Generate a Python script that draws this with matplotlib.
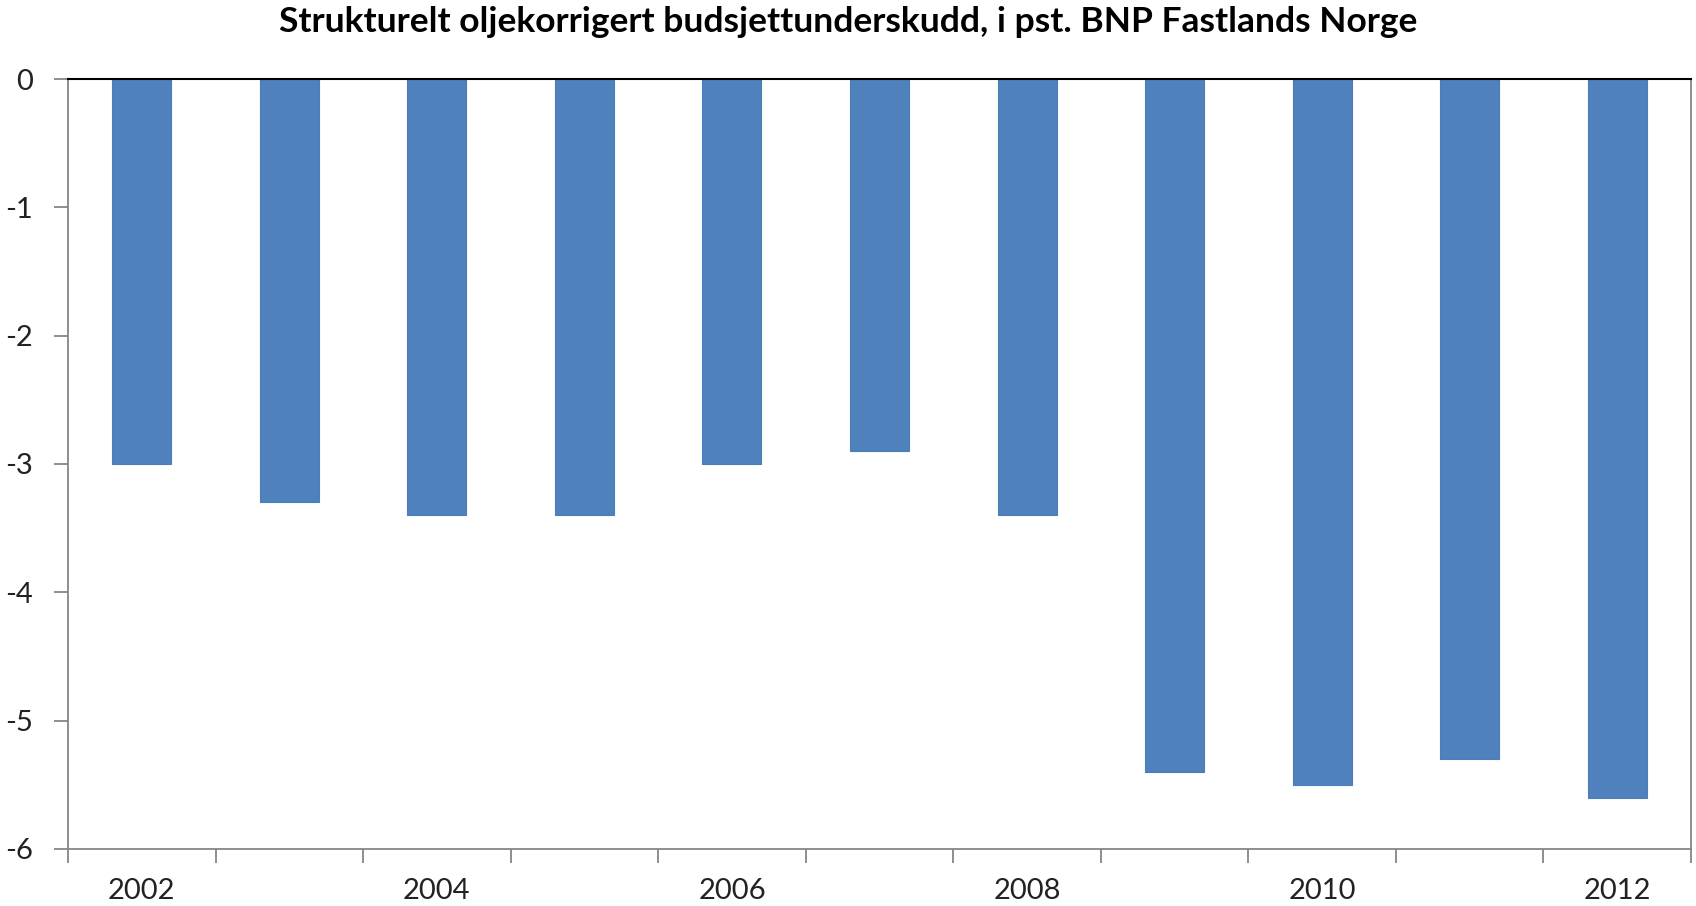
import numpy as np
import matplotlib
matplotlib.use('Agg')
import matplotlib.pyplot as plt

plt.rcParams['font.family'] = ['Lato', 'DejaVu Sans']

years = [2002, 2003, 2004, 2005, 2006, 2007, 2008, 2009, 2010, 2011, 2012]
deficit = [-3.0, -3.3, -3.4, -3.4, -3.0, -2.9, -3.4, -5.4, -5.5, -5.3, -5.6]
yticks = [0, -1, -2, -3, -4, -5, -6]
title = 'Strukturelt oljekorrigert budsjettunderskudd, i pst. BNP Fastlands Norge'

fig = plt.figure(figsize=(16.96, 9.06), dpi=100)
ax = fig.add_axes([68/1696, 1-849/906, (1691-68)/1696, (849-79)/906])

x = np.arange(len(years))
ax.bar(x, deficit, width=0.4, color='#4F81BD', edgecolor='#4A7DBA', linewidth=0.8, zorder=2)

ax.set_xlim(-0.5, len(years)-0.5)
ax.set_ylim(-6, 0)

grey = '#868686'
for s in ['left', 'bottom', 'right']:
    ax.spines[s].set_color(grey)
    ax.spines[s].set_linewidth(1.3)
ax.spines['top'].set_color('black')
ax.spines['top'].set_linewidth(1.5)
ax.spines['top'].set_zorder(3)

# ticks between categories, labels on every other year
ax.set_xticks(np.arange(len(years)+1) - 0.5)
ax.set_xticklabels([])
ax.tick_params(axis='x', which='major', direction='out', length=10, width=1.3, color=grey)
ax.set_xticks(x[::2], minor=True)
ax.set_xticklabels([str(y) for y in years[::2]], minor=True)
ax.tick_params(axis='x', which='minor', length=0, pad=21, labelsize=21, labelcolor='#222222')

ax.set_yticks(yticks)
ax.set_yticklabels([str(v) for v in yticks])
ax.tick_params(axis='y', direction='out', length=10, width=1.3, color=grey,
               pad=15, labelsize=21, labelcolor='#222222')

fig.text(0.5, 1-22/906, title, ha='center', va='center', fontsize=25.5, fontweight='bold')

fig.savefig('out.png', dpi=100, facecolor='white')
